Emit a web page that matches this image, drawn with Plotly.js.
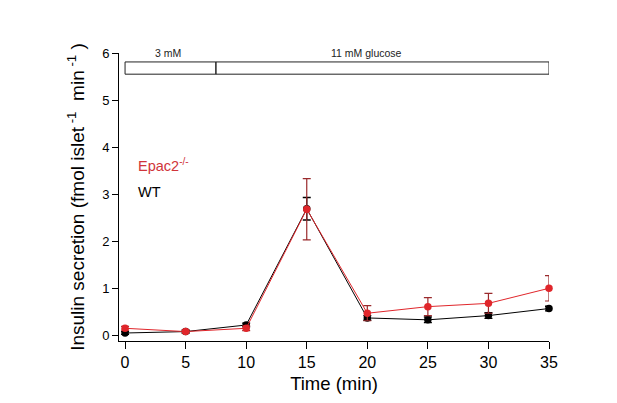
<!DOCTYPE html>
<html>
<head>
<meta charset="utf-8">
<script src="https://cdn.plot.ly/plotly-3.0.1.min.js"></script>
<style>html,body{margin:0;padding:0;background:#fff;}#chart{width:617px;height:403px;}</style>
</head>
<body>
<div id="chart"></div>
<script>
// Time points (min)
var timeMin = [0, 5, 10, 15, 20, 25, 30, 35];
// WT insulin secretion (fmol islet^-1 min^-1) and SEM
var wtValues = [0.05, 0.08, 0.22, 2.69, 0.37, 0.33, 0.42, 0.57];
var wtErrors = [0.03, 0.03, 0.04, 0.24, 0.05, 0.06, 0.06, 0.05];
// Epac2-/- insulin secretion and SEM
var epacValues = [0.15, 0.08, 0.15, 2.68, 0.47, 0.61, 0.68, 1.00];
var epacErrors = [0.04, 0.03, 0.05, 0.65, 0.16, 0.19, 0.21, 0.27];
// Tick values
var xTicks = [0, 5, 10, 15, 20, 25, 30, 35];
var yTicks = [0, 1, 2, 3, 4, 5, 6];
// Stimulus protocol bar segments
var stimStart = [0, 7.5];
var stimEnd = [7.5, 35];
var stimLabels = ['3 mM', '11 mM glucose'];
var stimLabelX = [3.55, 19.9];

var FONT = 'Liberation Sans, Arial, Helvetica, sans-serif';
var RED = '#e0262b';
var DARKRED = '#9a2a2c';
var NB = '\u00a0';

var traces = [
  {
    x: timeMin, y: wtValues, type: 'scatter', mode: 'lines+markers', name: 'WT',
    line: {color: '#000000', width: 1},
    marker: {color: '#000000', size: 7.5},
    error_y: {type: 'data', array: wtErrors, visible: true, color: '#000000', thickness: 1.4, width: 4},
    cliponaxis: false
  },
  {
    x: timeMin, y: epacValues, type: 'scatter', mode: 'lines+markers', name: 'Epac2-/-',
    line: {color: RED, width: 1},
    marker: {color: RED, size: 7.5},
    error_y: {type: 'data', array: epacErrors, visible: true, color: DARKRED, thickness: 1.2, width: 4},
    cliponaxis: false
  }
];

var shapes = [];
var annotations = [];
for (var i = 0; i < stimStart.length; i++) {
  shapes.push({type: 'rect', xref: 'x', yref: 'y', x0: stimStart[i], x1: stimEnd[i], y0: 5.55, y1: 5.81,
    line: {color: '#222', width: 1}, fillcolor: 'rgba(0,0,0,0)'});
  annotations.push({x: stimLabelX[i], y: 5.84, xref: 'x', yref: 'y', text: stimLabels[i], showarrow: false,
    yanchor: 'bottom', font: {family: FONT, size: 10.5, color: '#222'}});
}
annotations.push({x: 0.9, y: 3.62, xref: 'x', yref: 'y', xanchor: 'left', text: 'Epac2<sup>-/-</sup>', showarrow: false,
  font: {family: FONT, size: 14.5, color: '#d0343a'}});
annotations.push({x: 0.9, y: 3.05, xref: 'x', yref: 'y', xanchor: 'left', text: 'WT', showarrow: false,
  font: {family: FONT, size: 14.5, color: '#000'}});

var layout = {
  width: 617, height: 403,
  margin: {l: 119, r: 68, t: 53, b: 62},
  paper_bgcolor: '#fff', plot_bgcolor: '#fff',
  showlegend: false,
  font: {family: FONT, color: '#000'},
  xaxis: {
    range: [-0.5, 35], tickvals: xTicks, ticks: 'outside', ticklen: 7, tickwidth: 1, tickcolor: '#000',
    showline: true, linecolor: '#000', linewidth: 1, showgrid: false, zeroline: false,
    tickfont: {family: FONT, size: 16},
    title: {text: 'Time (min)', font: {family: FONT, size: 18.5}, standoff: 6}
  },
  yaxis: {
    range: [-0.12, 6], tickvals: yTicks, ticks: 'outside', ticklen: 6, tickwidth: 1, tickcolor: '#000',
    showline: true, linecolor: '#000', linewidth: 1, showgrid: false, zeroline: false,
    tickfont: {family: FONT, size: 13},
    title: {text: 'Insulin secretion (fmol islet<sup>' + NB + '-1</sup>' + NB + NB + 'min<sup>' + NB + '-1</sup>' + NB + ')',
      font: {family: FONT, size: 19}, standoff: 12}
  },
  shapes: shapes,
  annotations: annotations
};

Plotly.newPlot('chart', traces, layout, {displayModeBar: false, staticPlot: true});
</script>
</body>
</html>
